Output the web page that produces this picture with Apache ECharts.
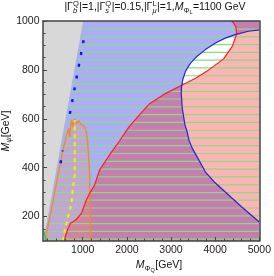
<!DOCTYPE html>
<html><head><meta charset="utf-8">
<script src="https://cdn.jsdelivr.net/npm/echarts@6/dist/echarts.min.js"></script>
<style>html,body{margin:0;padding:0;background:#fff}#c{width:274px;height:276px}</style>
</head><body><div id="c"></div><script>
// ---- axis ranges & ticks ----
const xRange = [100, 5000];
const yRange = [100, 1000];
const xMajorTicks = [1000, 2000, 3000, 4000, 5000];
const xMinorTicks = [200,400,600,800,1200,1400,1600,1800,2200,2400,2600,2800,3200,3400,3600,3800,4200,4400,4600,4800];
const yMajorTicks = [200, 400, 600, 800, 1000];
const yMinorTicks = [150,250,300,350,450,500,550,650,700,750,850,900,950];

// ---- region boundaries (data units: M_PhiQ, M_psi) ----
const grayEdge = [[110, 100], [1010, 1000]];
const blueCurve = [[5000,964],[4753,958],[4454,944],[4229,930],[4005,910],[3780,883],[3591,856],[3443,828],[3330,795],[3270,763],[3240,734],[3231,705],[3254,644],[3315,575],[3366,546],[3405,513],[3479,480],[3591,444],[3780,382],[4005,337],[4304,288],[4603,239],[4866,198],[5000,178]];
const redCurve = [[572,100],[669,152],[723,173],[781,179],[858,189],[970,213],[1082,268],[1157,295],[1269,329],[1381,390],[1606,452],[1831,509],[2056,569],[2281,615],[2505,660],[2881,704],[3254,738],[3555,766],[3854,800],[4191,845],[4394,898],[4484,947],[4472,975],[4416,992],[4371,1000]];
const orangeCurve = [[145,100],[300,240],[450,380],[560,480],[630,530],[684,562],[707,525],[729,575],[752,595],[774,566],[797,587],[819,599],[864,579],[909,591],[954,579],[999,587],[1044,566],[1089,542],[1118,493],[1141,423],[1157,370],[1180,100]];
const yellowCurve = [[550,100],[595,145],[669,199],[745,254],[781,322],[819,370],[819,595]];
const blueDottedUpper = [[708,620],[1051,952]];
const blueDottedLower = [[498,418],[545,470]];
const greenCurve = [[122,139],[150,118],[183,100]];
const hatchY = [967,935,903,872,840,808,776,744,712,681,649,617,585,553,521,490,458,426,394,362,330,298,267,235,203,171,139,108];

const FF = '"Liberation Sans", Arial, sans-serif';
const chart = echarts.init(document.getElementById('c'), null, {renderer:'canvas'});

function grayX(y){ const [a,b]=grayEdge; return a[0]+(y-a[1])*(b[0]-a[0])/(b[1]-a[1]); }
const fullRect = [[xRange[0],yRange[0]],[xRange[1],yRange[0]],[xRange[1],yRange[1]],[xRange[0],yRange[1]]];
const bubble = blueCurve.slice();
const redRegion = redCurve.concat([[xRange[1],yRange[1]],[xRange[1],yRange[0]]]);
const grayRegion = [[xRange[0],yRange[0]],[grayEdge[0][0],yRange[0]],[grayEdge[1][0],yRange[1]],[xRange[0],yRange[1]]];

function poly(points, fill, z){
  return {type:'custom', coordinateSystem:'cartesian2d', silent:true, z, animation:false,
    data:[[xRange[0], yRange[0]]],
    renderItem:(p, api)=>({type:'polygon', shape:{points: points.map(q=>api.coord(q))}, style:{fill, stroke:null}})};
}
function line(points, color, width, type, z){
  return {type:'line', data:points, showSymbol:false, silent:true, z, animation:false,
    lineStyle:{color, width, type: type||'solid'}};
}

const series = [
  poly(fullRect, '#adadf6', 1),
  poly(bubble, '#ffffff', 2),
  poly(redRegion, 'rgba(246,36,36,0.34)', 3),
  poly(grayRegion, '#d8d8d8', 4),
  poly(orangeCurve, 'rgba(250,140,120,0.28)', 5),
  {type:'custom', coordinateSystem:'cartesian2d', silent:true, z:6, animation:false,
    data: hatchY.map(y=>[y]),
    renderItem:(p, api)=>{ const y=api.value(0); const a=api.coord([grayX(y), y]); const b=api.coord([xRange[1], y]);
      return {type:'line', shape:{x1:a[0],y1:a[1],x2:b[0],y2:b[1]}, style:{stroke:'#84de84', lineWidth:1.2}}; }},
  line(orangeCurve, '#f0892a', 1.3, 'solid', 7),
  line(redCurve, '#ff1c1c', 1.2, 'solid', 7),
  line(blueCurve, '#2424d4', 1.2, 'solid', 7),
  line(yellowCurve, '#f4f000', 2, [4,4], 8),
  line(blueDottedUpper, '#1010f0', 2.4, [3,9], 8),
  line(blueDottedLower, '#1010f0', 2.4, [3,9], 8),
  line(greenCurve, '#20d020', 1.3, 'solid', 8)
];

const axisCol = '#444';
const fmt = v => String(v);
const option = {
  animation:false,
  grid:{left:43, top:21, width:218, height:220},
  xAxis:[
    {type:'value', min:xRange[0], max:xRange[1], position:'bottom', z:10,
     axisLine:{show:true, onZero:false, lineStyle:{color:axisCol, width:1.5}},
     axisTick:{show:true, inside:true, length:4, customValues:xMajorTicks, lineStyle:{color:axisCol}},
     axisLabel:{customValues:xMajorTicks, formatter:fmt, color:'#222', fontSize:10.5, margin:4, fontFamily:FF},
     splitLine:{show:false}},
    {type:'value', min:xRange[0], max:xRange[1], position:'bottom', z:10,
     axisLine:{show:false}, axisTick:{show:true, inside:true, length:2.5, customValues:xMinorTicks, lineStyle:{color:axisCol}},
     axisLabel:{show:false}, splitLine:{show:false}},
    {type:'value', min:xRange[0], max:xRange[1], position:'top', z:10,
     axisLine:{show:true, onZero:false, lineStyle:{color:axisCol, width:1.5}}, axisTick:{show:false}, axisLabel:{show:false}, splitLine:{show:false}}
  ],
  yAxis:[
    {type:'value', min:yRange[0], max:yRange[1], position:'left', z:10,
     axisLine:{show:true, onZero:false, lineStyle:{color:axisCol, width:1.5}},
     axisTick:{show:true, inside:true, length:4, customValues:yMajorTicks, lineStyle:{color:axisCol}},
     axisLabel:{customValues:yMajorTicks, formatter:fmt, color:'#222', fontSize:10.5, margin:3.5, fontFamily:FF},
     splitLine:{show:false}},
    {type:'value', min:yRange[0], max:yRange[1], position:'left', z:10,
     axisLine:{show:false}, axisTick:{show:true, inside:true, length:2.5, customValues:yMinorTicks, lineStyle:{color:axisCol}},
     axisLabel:{show:false}, splitLine:{show:false}},
    {type:'value', min:yRange[0], max:yRange[1], position:'right', z:10,
     axisLine:{show:true, onZero:false, lineStyle:{color:axisCol, width:1.5}}, axisTick:{show:false}, axisLabel:{show:false}, splitLine:{show:false}}
  ],
  series
};

// ---- text with sub/superscripts ----
function fontStr(s, it){ return (it?'italic ':'normal ') + s + 'px "Liberation Sans", Arial, sans-serif'; }
const cv = document.createElement('canvas').getContext('2d');
function tw(t, s, it){ cv.font = fontStr(s,it); return cv.measureText(t).width; }
function build(pieces){
  const els=[]; let x=0;
  pieces.forEach(pc=>{
    const items = pc.stack || [pc];
    let wmax=0;
    items.forEach(it=>{ const w=tw(it.t,it.s,it.it); wmax=Math.max(wmax,w);
      els.push({type:'text', x, y:(it.dy||0), silent:true,
        style:{text:it.t, font:fontStr(it.s,it.it), fill:'#111', align:'left', verticalAlign:'middle'}}); });
    x += wmax + (pc.gap||0);
  });
  els.forEach(e=>e.x -= x/2);
  return els;
}
const titlePieces = [
  {t:'|Γ', s:10.5},
  {stack:[{t:'Q', s:7.5, dy:-3.5},{t:'b', s:7.5, dy:3, it:true}], gap:0.5},
  {t:'|=1,|Γ', s:10.5},
  {stack:[{t:'Q', s:7.5, dy:-3.5},{t:'s', s:7.5, dy:3, it:true}], gap:0.5},
  {t:'|=0.15,|Γ', s:10.5},
  {stack:[{t:'L', s:7.5, dy:-3.5},{t:'μ', s:7.5, dy:3, it:true}], gap:0.5},
  {t:'|=1,', s:10.5},
  {t:'M', s:10.5, it:true},
  {t:'Φ', s:7.5, dy:3},
  {t:'L', s:5.5, dy:5, gap:0.5},
  {t:'=1100 GeV', s:10.5}
];
const xNamePieces = [{t:'M', s:10.5, it:true},{t:'Φ', s:7.5, dy:3},{t:'Q', s:5.5, dy:5, gap:0.5},{t:'[GeV]', s:10.5}];
const yNamePieces = [{t:'M', s:10.5, it:true},{t:'ψ', s:7.5, dy:3, it:true},{t:'[GeV]', s:10.5}];

option.graphic = [
  {type:'group', x:155, y:7.5, children: build(titlePieces)},
  {type:'group', x:159, y:265.5, children: build(xNamePieces)},
  {type:'group', x:6, y:131, rotation:Math.PI/2, children: build(yNamePieces)}
];
chart.setOption(option);
</script></body></html>
